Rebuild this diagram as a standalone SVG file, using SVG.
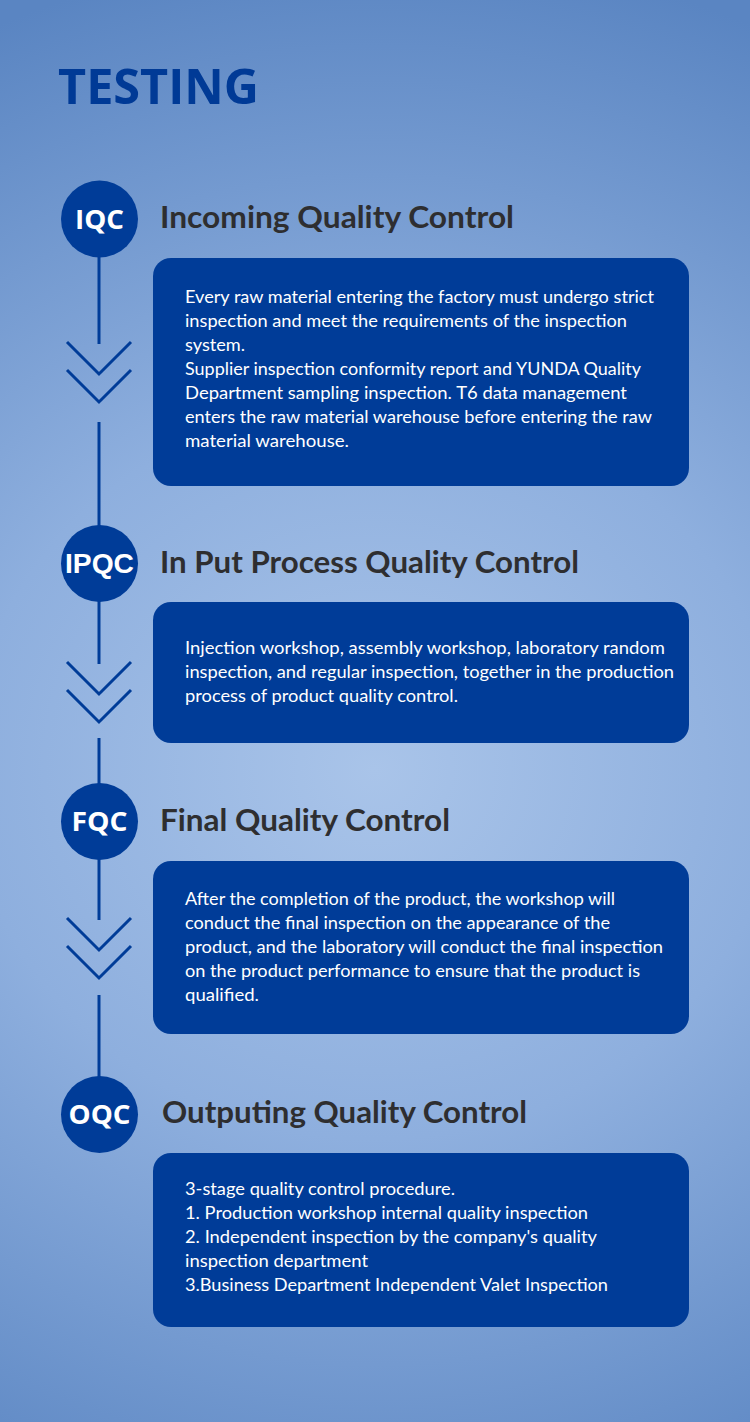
<svg xmlns="http://www.w3.org/2000/svg" width="750" height="1422" viewBox="0 0 750 1422">
<defs>
<radialGradient id="bg" gradientUnits="userSpaceOnUse" cx="375" cy="770" r="820" gradientTransform="translate(375 770) scale(1.1 1) translate(-375 -770)">
<stop offset="0" stop-color="#a9c4e9"/>
<stop offset="0.45" stop-color="#8eafde"/>
<stop offset="1" stop-color="#5a85c2"/>
</radialGradient>
<style>
.title{font-family:"Open Sans","Noto Sans",sans-serif;font-weight:bold;font-size:48px;fill:#003a96}
.circ{fill:#003c98}
.clab{font-family:"Open Sans","Noto Sans",sans-serif;font-weight:bold;font-size:27px;fill:#ffffff;text-anchor:middle}
.clab2{font-family:"Liberation Sans",Arial,sans-serif;font-weight:bold;font-size:27px;fill:#ffffff;text-anchor:middle}
.head{font-family:"Lato","Noto Sans",sans-serif;font-weight:bold;font-size:31px;fill:#2e2e30}
.box{fill:#003c98}
.body{font-family:"Lato","Noto Sans",sans-serif;font-size:17.5px;fill:#ffffff}
.conn{stroke:#003c98;stroke-width:3;fill:none}
</style>
</defs>
<rect width="750" height="1422" fill="url(#bg)"/>
<text class="title" x="58" y="104" textLength="201" lengthAdjust="spacingAndGlyphs">TESTING</text>

<g id="connectors">
<line class="conn" x1="99" y1="256" x2="99" y2="344"/>
<polyline class="conn" points="67,342 99,374 131,342"/>
<polyline class="conn" points="67,370 99,402 131,370"/>
<line class="conn" x1="99" y1="422" x2="99" y2="526"/>

<line class="conn" x1="99" y1="600" x2="99" y2="664"/>
<polyline class="conn" points="67,662 99,694 131,662"/>
<polyline class="conn" points="67,690 99,722 131,690"/>
<line class="conn" x1="99" y1="738" x2="99" y2="784"/>

<line class="conn" x1="99" y1="858" x2="99" y2="920"/>
<polyline class="conn" points="67,918 99,950 131,918"/>
<polyline class="conn" points="67,946 99,978 131,946"/>
<line class="conn" x1="99" y1="995" x2="99" y2="1077"/>
</g>

<g id="iqc">
<circle class="circ" cx="99.5" cy="219" r="38.5"/>
<text class="clab" x="99.5" y="228.5" textLength="49" lengthAdjust="spacingAndGlyphs">IQC</text>
<text class="head" x="160" y="228" textLength="354" lengthAdjust="spacingAndGlyphs">Incoming Quality Control</text>
<rect class="box" x="153" y="258" width="536" height="228" rx="18"/>
<text class="body" x="185" y="303" textLength="469" lengthAdjust="spacingAndGlyphs">Every raw material entering the factory must undergo strict</text>
<text class="body" x="185" y="327" textLength="442" lengthAdjust="spacingAndGlyphs">inspection and meet the requirements of the inspection</text>
<text class="body" x="185" y="351" textLength="60" lengthAdjust="spacingAndGlyphs">system.</text>
<text class="body" x="185" y="375" textLength="456" lengthAdjust="spacingAndGlyphs">Supplier inspection conformity report and YUNDA Quality</text>
<text class="body" x="185" y="399" textLength="442" lengthAdjust="spacingAndGlyphs">Department sampling inspection. T6 data management</text>
<text class="body" x="185" y="423" textLength="467" lengthAdjust="spacingAndGlyphs">enters the raw material warehouse before entering the raw</text>
<text class="body" x="185" y="447" textLength="164" lengthAdjust="spacingAndGlyphs">material warehouse.</text>
</g>

<g id="ipqc">
<circle class="circ" cx="99.5" cy="563.5" r="38.5"/>
<text class="clab2" x="99.5" y="573" textLength="69" lengthAdjust="spacingAndGlyphs">IPQC</text>
<text class="head" x="160" y="573" textLength="419" lengthAdjust="spacingAndGlyphs">In Put Process Quality Control</text>
<rect class="box" x="153" y="602" width="536" height="141" rx="18"/>
<text class="body" x="185" y="654" textLength="480" lengthAdjust="spacingAndGlyphs">Injection workshop, assembly workshop, laboratory random</text>
<text class="body" x="185" y="678" textLength="489" lengthAdjust="spacingAndGlyphs">inspection, and regular inspection, together in the production</text>
<text class="body" x="185" y="702" textLength="273" lengthAdjust="spacingAndGlyphs">process of product quality control.</text>
</g>

<g id="fqc">
<circle class="circ" cx="99.5" cy="821.5" r="38.5"/>
<text class="clab" x="99.5" y="831" textLength="56" lengthAdjust="spacingAndGlyphs">FQC</text>
<text class="head" x="160" y="831" textLength="290" lengthAdjust="spacingAndGlyphs">Final Quality Control</text>
<rect class="box" x="153" y="861" width="536" height="173" rx="18"/>
<text class="body" x="185" y="905" textLength="430" lengthAdjust="spacingAndGlyphs">After the completion of the product, the workshop will</text>
<text class="body" x="185" y="929" textLength="425" lengthAdjust="spacingAndGlyphs">conduct the final inspection on the appearance of the</text>
<text class="body" x="185" y="953" textLength="478" lengthAdjust="spacingAndGlyphs">product, and the laboratory will conduct the final inspection</text>
<text class="body" x="185" y="977" textLength="455" lengthAdjust="spacingAndGlyphs">on the product performance to ensure that the product is</text>
<text class="body" x="185" y="1001" textLength="74" lengthAdjust="spacingAndGlyphs">qualified.</text>
</g>

<g id="oqc">
<circle class="circ" cx="99.5" cy="1114.5" r="38.5"/>
<text class="clab" x="99.5" y="1124" textLength="62" lengthAdjust="spacingAndGlyphs">OQC</text>
<text class="head" x="162" y="1123" textLength="365" lengthAdjust="spacingAndGlyphs">Outputing Quality Control</text>
<rect class="box" x="153" y="1153" width="536" height="174" rx="18"/>
<text class="body" x="185" y="1195" textLength="270" lengthAdjust="spacingAndGlyphs">3-stage quality control procedure.</text>
<text class="body" x="185" y="1219" textLength="403" lengthAdjust="spacingAndGlyphs">1. Production workshop internal quality inspection</text>
<text class="body" x="185" y="1243" textLength="412" lengthAdjust="spacingAndGlyphs">2. Independent inspection by the company's quality</text>
<text class="body" x="185" y="1267" textLength="183" lengthAdjust="spacingAndGlyphs">inspection department</text>
<text class="body" x="185" y="1291" textLength="423" lengthAdjust="spacingAndGlyphs">3.Business Department Independent Valet Inspection</text>
</g>
</svg>
